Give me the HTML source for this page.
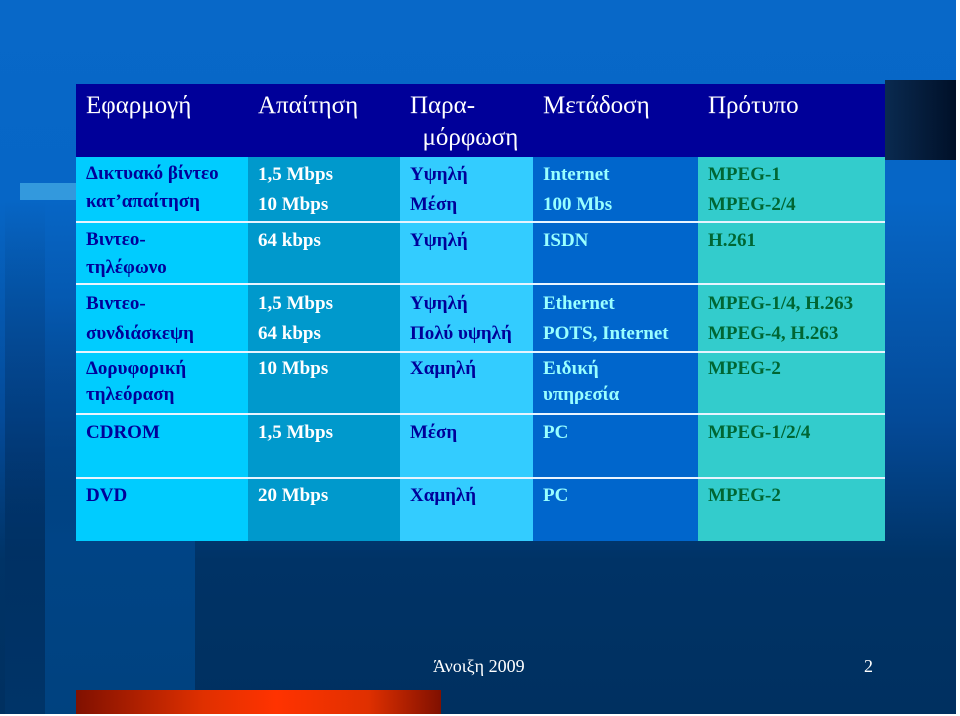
<!DOCTYPE html>
<html><head><meta charset="utf-8">
<style>
body{margin:0;width:960px;height:716px;overflow:hidden;background:#fff;}
#slide{position:absolute;left:0;top:0;width:956px;height:714px;overflow:hidden;
background:linear-gradient(to bottom,#0868c8 0px,#0666c6 200px,#044a98 420px,#003366 560px,#003060 716px);}
.abs{position:absolute;}
.cell{position:absolute;}
.t{position:absolute;font-family:"Liberation Serif","Noto Serif CJK SC",serif;font-weight:bold;font-size:19px;line-height:30px;white-space:nowrap;}
.h{position:absolute;font-family:"Liberation Serif",serif;font-size:25px;color:#fff;line-height:32px;white-space:nowrap;}
.rule{position:absolute;left:76px;width:809px;height:2px;background:#e8f4ff;}
</style></head><body>
<div id="slide">
  <div class="abs" style="left:5px;top:0;width:40px;height:716px;background:linear-gradient(to bottom,rgba(0,40,90,0) 0,rgba(0,40,90,0) 200px,rgba(0,45,95,.6) 500px,#003468 716px)"></div>
  <div class="abs" style="left:45px;top:0;width:150px;height:716px;background:linear-gradient(to bottom,rgba(0,70,140,0) 0,rgba(0,70,140,0) 300px,#004486 540px,#00427f 716px)"></div>
  <div class="abs" style="left:885px;top:80px;width:71px;height:80px;background:linear-gradient(to right,#0a2a50,#001028)"></div>
  <div class="abs" style="left:20px;top:183px;width:56px;height:17px;background:#3399dd"></div>
  <div class="abs" style="left:76px;top:690px;width:365px;height:26px;background:linear-gradient(to right,#801000,#e03000 35%,#ff3300 55%,#e03000 80%,#801000)"></div>

  <div>
    <div class="cell" style="left:76px;top:84px;width:809px;height:73px;background:#000099"></div>
    <div class="cell" style="left:76px;top:157px;width:172px;height:384px;background:#00ccff"></div>
    <div class="cell" style="left:248px;top:157px;width:152px;height:384px;background:#0099cc"></div>
    <div class="cell" style="left:400px;top:157px;width:133px;height:384px;background:#33ccff"></div>
    <div class="cell" style="left:533px;top:157px;width:165px;height:384px;background:#0066cc"></div>
    <div class="cell" style="left:698px;top:157px;width:187px;height:384px;background:#33cccc"></div>
    <div class="rule" style="top:221px"></div>
    <div class="rule" style="top:283px"></div>
    <div class="rule" style="top:351px"></div>
    <div class="rule" style="top:413px"></div>
    <div class="rule" style="top:477px"></div>

    <div class="h" style="left:86px;top:90px">Εφαρμογή</div>
    <div class="h" style="left:258px;top:90px">Απαίτηση</div>
    <div class="h" style="left:410px;top:90px">Παρα-<br>&nbsp;&nbsp;μόρφωση</div>
    <div class="h" style="left:543px;top:90px">Μετάδοση</div>
    <div class="h" style="left:708px;top:90px">Πρότυπο</div>

    <!-- column 1 -->
    <div class="t" style="left:86px;top:160px;color:#000099;line-height:28px">Δικτυακό βίντεο<br>κατ’απαίτηση</div>
    <div class="t" style="left:86px;top:226px;color:#000099;line-height:28px">Βιντεο-<br>τηλέφωνο</div>
    <div class="t" style="left:86px;top:289px;color:#000099;line-height:30px">Βιντεο-<br>συνδιάσκεψη</div>
    <div class="t" style="left:86px;top:356px;color:#000099;line-height:26px">Δορυφορική<br>τηλεόραση</div>
    <div class="t" style="left:86px;top:418px;color:#000099">CDROM</div>
    <div class="t" style="left:86px;top:481px;color:#000099">DVD</div>
    <!-- column 2 -->
    <div class="t" style="left:258px;top:160px;color:#fff">1,5 Mbps<br>10 Mbps</div>
    <div class="t" style="left:258px;top:226px;color:#fff">64 kbps</div>
    <div class="t" style="left:258px;top:289px;color:#fff">1,5 Mbps<br>64 kbps</div>
    <div class="t" style="left:258px;top:354px;color:#fff">10 Mbps</div>
    <div class="t" style="left:258px;top:418px;color:#fff">1,5 Mbps</div>
    <div class="t" style="left:258px;top:481px;color:#fff">20 Mbps</div>
    <!-- column 3 -->
    <div class="t" style="left:410px;top:160px;color:#000099">Υψηλή<br>Μέση</div>
    <div class="t" style="left:410px;top:226px;color:#000099">Υψηλή</div>
    <div class="t" style="left:410px;top:289px;color:#000099">Υψηλή<br>Πολύ υψηλή</div>
    <div class="t" style="left:410px;top:354px;color:#000099">Χαμηλή</div>
    <div class="t" style="left:410px;top:418px;color:#000099">Μέση</div>
    <div class="t" style="left:410px;top:481px;color:#000099">Χαμηλή</div>
    <!-- column 4 -->
    <div class="t" style="left:543px;top:160px;color:#99ffff">Internet<br>100 Mbs</div>
    <div class="t" style="left:543px;top:226px;color:#99ffff">ISDN</div>
    <div class="t" style="left:543px;top:289px;color:#99ffff">Ethernet<br>POTS, Internet</div>
    <div class="t" style="left:543px;top:356px;color:#99ffff;line-height:26px">Ειδική<br>υπηρεσία</div>
    <div class="t" style="left:543px;top:418px;color:#99ffff">PC</div>
    <div class="t" style="left:543px;top:481px;color:#99ffff">PC</div>
    <!-- column 5 -->
    <div class="t" style="left:708px;top:160px;color:#006633">MPEG-1<br>MPEG-2/4</div>
    <div class="t" style="left:708px;top:226px;color:#006633">H.261</div>
    <div class="t" style="left:708px;top:289px;color:#006633">MPEG-1/4, H.263<br>MPEG-4, H.263</div>
    <div class="t" style="left:708px;top:354px;color:#006633">MPEG-2</div>
    <div class="t" style="left:708px;top:418px;color:#006633">MPEG-1/2/4</div>
    <div class="t" style="left:708px;top:481px;color:#006633">MPEG-2</div>
  </div>

  <div class="abs" style="left:433px;top:656px;font-family:'Liberation Serif',serif;font-size:18px;color:#fff">Άνοιξη 2009</div>
  <div class="abs" style="left:864px;top:656px;font-family:'Liberation Serif',serif;font-size:18px;color:#fff">2</div>
</div>
</body></html>
